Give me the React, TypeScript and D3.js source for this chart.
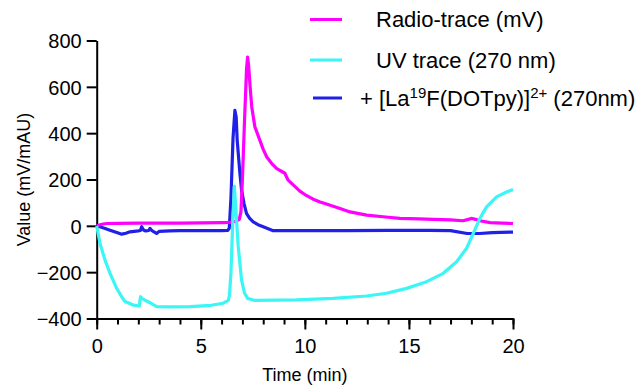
import { useEffect, useRef } from "react";
import * as d3 from "d3";

// Radio-trace (mV)
const radioTime = [0, 0.3, 0.5, 1, 2, 3, 4, 5, 6, 6.4, 6.7, 6.85, 6.93, 7.0, 7.1, 7.2, 7.25, 7.3, 7.38, 7.45, 7.6, 7.84, 8.0, 8.17, 8.4, 8.65, 9.04, 9.1, 9.2, 9.4, 9.76, 10.0, 10.4, 10.73, 11.0, 11.69, 12.17, 12.97, 14.0, 14.57, 15.5, 16.17, 17.0, 17.6, 17.85, 18.0, 18.2, 18.4, 18.9, 19.5, 20];
const radioValue = [0, 8, 10, 11, 12, 12, 12, 13, 14, 15, 20, 28, 60, 200, 450, 680, 728, 690, 590, 513, 427, 369, 330, 297, 270, 247, 227, 215, 197, 180, 150, 135, 115, 103, 95, 75, 60, 46, 37, 32, 30, 28, 26, 22, 28, 32, 28, 22, 14, 12, 10];

// UV trace (270 nm)
const uvTime = [0, 0.16, 0.4, 0.64, 0.96, 1.2, 1.36, 1.76, 2.05, 2.08, 2.11, 2.2, 2.3, 2.56, 2.88, 3.5, 4.5, 5.5, 6.08, 6.32, 6.38, 6.45, 6.53, 6.61, 6.68, 6.8, 6.96, 7.1, 7.25, 7.6, 9.6, 11.36, 12.97, 13.93, 14.89, 15.85, 16.65, 17.29, 17.77, 18.09, 18.41, 18.73, 19.21, 19.69, 20];
const uvValue = [0, -76, -148, -205, -270, -306, -327, -342, -346, -320, -306, -315, -320, -332, -349, -350, -349, -343, -334, -322, -300, -200, 0, 172, 80, -90, -234, -290, -313, -322, -320, -313, -303, -291, -270, -241, -205, -155, -97, -33, 32, 82, 125, 146, 157];

// + [La19F(DOTpy)]2+ (270nm)
const stdTime = [0, 0.3, 0.64, 1.0, 1.2, 1.4, 1.6, 2.0, 2.1, 2.16, 2.25, 2.35, 2.5, 2.56, 2.65, 2.75, 2.88, 3.0, 3.5, 4, 5, 6, 6.3, 6.37, 6.45, 6.55, 6.64, 6.7, 6.75, 6.88, 6.96, 7.08, 7.2, 7.35, 7.52, 7.75, 8.0, 8.48, 10, 12, 14, 16, 17, 17.8, 18.4, 19, 20];
const stdValue = [0, -8, -19, -30, -36, -32, -26, -22, -20, -4, -18, -22, -20, -11, -20, -26, -33, -24, -22, -21, -21, -21, -20, -10, 120, 380, 498, 470, 369, 226, 154, 95, 53, 32, 17, 5, -4, -21, -21, -21, -20, -20, -21, -33, -33, -29, -27];

const xTicks = [0, 5, 10, 15, 20];
const xMinorTicks = d3.range(0, 21, 1);
const yTicks = [-400, -200, 0, 200, 400, 600, 800];

const FONT = "'Liberation Sans', Arial, Helvetica, sans-serif";

export default function App() {
  const svgRef = useRef<SVGSVGElement>(null);

  useEffect(() => {
    if (!svgRef.current) return;
    const width = 642;
    const height = 385;

    const svg = d3.select(svgRef.current);
    svg.selectAll("*").remove();
    svg.attr("width", width).attr("height", height);

    const x = d3.scaleLinear().domain([0, 20]).range([96.7, 513]);
    const y = d3.scaleLinear().domain([-400, 800]).range([318.5, 40.5]);

    // axes
    const yAxis = svg
      .append("g")
      .attr("transform", `translate(${x(0)},0)`)
      .call(d3.axisLeft(y).tickValues(yTicks).tickSize(10).tickSizeOuter(0).tickPadding(5));
    yAxis.select(".domain").attr("stroke-width", 2);
    yAxis.selectAll(".tick line").attr("stroke-width", 2);
    yAxis
      .selectAll(".tick text")
      .attr("font-size", 20)
      .attr("font-family", FONT)
      .attr("fill", "#000")
      .attr("dy", "0.36em");

    const xMinor = svg
      .append("g")
      .attr("transform", `translate(0,${y(-400)})`)
      .call(d3.axisBottom(x).tickValues(xMinorTicks).tickSize(6).tickSizeOuter(0).tickFormat(() => ""));
    xMinor.select(".domain").remove();
    xMinor.selectAll(".tick line").attr("stroke-width", 2);

    const xAxis = svg
      .append("g")
      .attr("transform", `translate(0,${y(-400)})`)
      .call(d3.axisBottom(x).tickValues(xTicks).tickSize(11).tickSizeOuter(0).tickPadding(9));
    xAxis.select(".domain").attr("stroke-width", 2);
    xAxis.selectAll(".tick line").attr("stroke-width", 2);
    xAxis
      .selectAll(".tick text")
      .attr("font-size", 20)
      .attr("font-family", FONT)
      .attr("fill", "#000");

    // axis titles
    svg
      .append("text")
      .attr("x", (x(0) + x(20)) / 2)
      .attr("y", 381)
      .attr("text-anchor", "middle")
      .attr("font-size", 18)
      .attr("font-family", FONT)
      .text("Time (min)");

    svg
      .append("text")
      .attr("transform", `translate(30,${(y(-400) + y(800)) / 2}) rotate(-90)`)
      .attr("text-anchor", "middle")
      .attr("font-size", 18)
      .attr("font-family", FONT)
      .text("Value (mV/mAU)");

    // traces
    const line = d3
      .line<[number, number]>()
      .x((d) => x(d[0]))
      .y((d) => y(d[1]));

    const series = [
      { t: stdTime, v: stdValue, color: "#2020E8" },
      { t: radioTime, v: radioValue, color: "#FF00FF" },
      { t: uvTime, v: uvValue, color: "#3CF5F5" },
    ];
    series.forEach((s) => {
      svg
        .append("path")
        .datum(s.t.map((t, i) => [t, s.v[i]] as [number, number]))
        .attr("d", line)
        .attr("fill", "none")
        .attr("stroke", s.color)
        .attr("stroke-width", 3.2)
        .attr("stroke-linejoin", "round");
    });

    // legend
    const legend = svg.append("g").attr("font-family", FONT).attr("font-size", 22);
    const rows = [
      { color: "#FF00FF", y: 19.5, x1: 310, base: 27 },
      { color: "#3CF5F5", y: 60, x1: 310, base: 68 },
      { color: "#2020E8", y: 98, x1: 313, base: 106 },
    ];
    rows.forEach((r) => {
      legend
        .append("line")
        .attr("x1", r.x1)
        .attr("x2", 342)
        .attr("y1", r.y)
        .attr("y2", r.y)
        .attr("stroke", r.color)
        .attr("stroke-width", 3);
    });
    legend.append("text").attr("x", 376).attr("y", rows[0].base).text("Radio-trace (mV)");
    legend.append("text").attr("x", 376).attr("y", rows[1].base).text("UV trace (270 nm)");
    const t3 = legend.append("text").attr("x", 360).attr("y", rows[2].base);
    t3.append("tspan").text("+ [La");
    t3.append("tspan").attr("font-size", 15).attr("dy", -8).text("19");
    t3.append("tspan").attr("dy", 8).text("F(DOTpy)]");
    t3.append("tspan").attr("font-size", 15).attr("dy", -8).text("2+");
    t3.append("tspan").attr("dy", 8).text(" (270nm)");
  }, []);

  return (
    <svg
      ref={svgRef}
      style={{ position: "absolute", left: 0, top: 0, display: "block", background: "#fff" }}
    />
  );
}
